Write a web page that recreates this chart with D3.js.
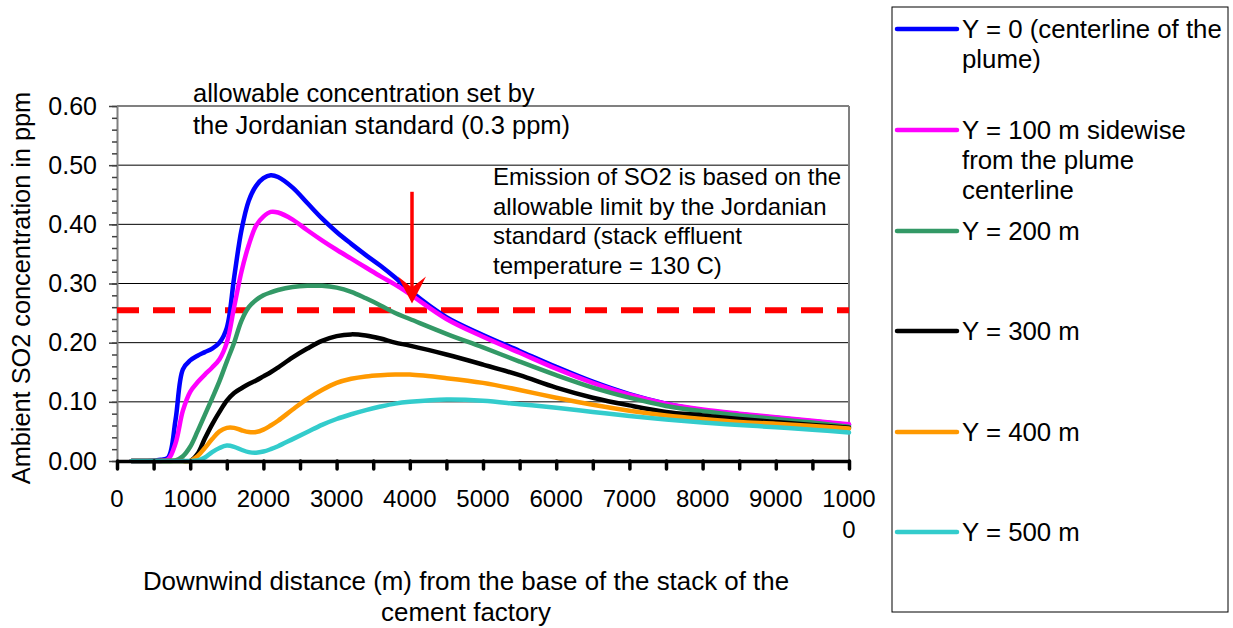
<!DOCTYPE html>
<html><head><meta charset="utf-8">
<script src="https://cdn.jsdelivr.net/npm/d3@7"></script>
<style>
body{margin:0;background:#fff;}
svg{display:block;font-family:"Liberation Sans",Arial,sans-serif;}
</style></head>
<body><svg id="c" width="1233" height="628"></svg>
<script>
const distances = [200,400,600,700,800,900,1000,1100,1200,1300,1400,1500,1600,1700,1800,1900,2000,2100,2200,2400,2600,2800,3000,3200,3400,3600,3800,4000,4500,5000,5500,6000,6500,7000,7500,8000,8500,9000,9500,10000];
const y0   = [0,0,0.002,0.006,0.07,0.155,0.17,0.178,0.184,0.19,0.2,0.225,0.31,0.39,0.44,0.465,0.478,0.483,0.48,0.462,0.436,0.41,0.387,0.367,0.348,0.33,0.31,0.288,0.243,0.213,0.186,0.159,0.134,0.113,0.097,0.086,0.079,0.073,0.067,0.061];
const y100 = [0,0,0,0.003,0.03,0.085,0.117,0.133,0.146,0.158,0.172,0.2,0.26,0.32,0.365,0.398,0.413,0.421,0.42,0.408,0.39,0.373,0.357,0.342,0.327,0.312,0.298,0.282,0.24,0.21,0.183,0.156,0.132,0.112,0.097,0.087,0.08,0.074,0.068,0.062];
const y200 = [0,0,0,0,0.001,0.008,0.024,0.05,0.078,0.106,0.135,0.168,0.2,0.237,0.26,0.272,0.28,0.285,0.289,0.294,0.296,0.296,0.293,0.286,0.275,0.263,0.25,0.24,0.215,0.192,0.168,0.145,0.124,0.107,0.093,0.084,0.077,0.071,0.065,0.058];
const y300 = [0,0,0,0,0,0,0,0.012,0.038,0.062,0.083,0.102,0.115,0.123,0.13,0.136,0.143,0.15,0.158,0.175,0.19,0.203,0.211,0.214,0.212,0.207,0.2,0.195,0.18,0.163,0.145,0.124,0.107,0.094,0.083,0.077,0.071,0.066,0.061,0.056];
const y400 = [0,0,0,0,0,0,0,0.008,0.022,0.037,0.05,0.056,0.056,0.052,0.049,0.049,0.053,0.06,0.068,0.087,0.105,0.12,0.132,0.139,0.143,0.145,0.146,0.146,0.14,0.132,0.12,0.107,0.095,0.085,0.077,0.071,0.066,0.063,0.059,0.055];
const y500 = [0,0,0,0,0,0,0,0.001,0.006,0.015,0.022,0.026,0.024,0.019,0.015,0.014,0.016,0.02,0.025,0.037,0.049,0.061,0.071,0.079,0.086,0.092,0.097,0.1,0.104,0.102,0.096,0.09,0.083,0.076,0.07,0.065,0.061,0.057,0.053,0.048];
const seriesNames = [["Y = 0 (centerline of the","plume)"],["Y = 100 m sidewise","from the plume","centerline"],["Y = 200 m"],["Y = 300 m"],["Y = 400 m"],["Y = 500 m"]];
const seriesColors = ["#0000ff","#ff00ff","#339966","#000000","#ff9900","#33cccc"];
const seriesValues = [y0,y100,y200,y300,y400,y500];
const xTicks = [0,1000,2000,3000,4000,5000,6000,7000,8000,9000,10000];
const yTicks = [0,0.1,0.2,0.3,0.4,0.5,0.6];
const limitValue = 0.255;
const arrowX = 4030, arrowTop = 0.455, arrowTip = 0.266;

const svg = d3.select("#c");
const L=117,R=849,T=106,B=461;
const x = d3.scaleLinear().domain([0,10000]).range([L,R]);
const y = d3.scaleLinear().domain([0,0.6]).range([B,T]);
const FF = "Liberation Sans, Arial, sans-serif";

// grid
svg.append("g").selectAll("line").data(yTicks.filter(v=>v>0&&v<0.6)).join("line")
  .attr("x1",L).attr("x2",R).attr("y1",d=>y(d)).attr("y2",d=>y(d))
  .attr("stroke","#000").attr("stroke-width",1);
// border top/right
svg.append("line").attr("x1",L).attr("x2",R).attr("y1",T).attr("y2",T).attr("stroke","#808080").attr("stroke-width",2);
svg.append("line").attr("x1",R).attr("x2",R).attr("y1",T).attr("y2",B).attr("stroke","#808080").attr("stroke-width",2);

// y minor ticks
const yMinor = svg.append("g").attr("transform",`translate(${L},0)`)
  .call(d3.axisLeft(y).tickValues(d3.range(0,31).map(i=>i*0.02)).tickSize(5).tickSizeOuter(0).tickFormat(""));
yMinor.select(".domain").attr("stroke","#808080").attr("stroke-width",2);
yMinor.selectAll(".tick line").attr("stroke","#404040").attr("stroke-width",1.5);
const yAx = svg.append("g").attr("transform",`translate(${L},0)`)
  .call(d3.axisLeft(y).tickValues(yTicks).tickSize(8).tickSizeOuter(0).tickPadding(12).tickFormat(d3.format(".2f")));
yAx.select(".domain").remove();
yAx.selectAll(".tick line").attr("stroke","#404040").attr("stroke-width",1.5);
yAx.selectAll(".tick text").attr("font-size",25).attr("fill","#000").attr("font-family",FF);

// red dashed limit
svg.append("line").attr("x1",L).attr("x2",R).attr("y1",y(limitValue)).attr("y2",y(limitValue))
  .attr("stroke","#ff0000").attr("stroke-width",6).attr("stroke-dasharray","22,14");

// series
const line = d3.line().x((d,i)=>x(distances[i])).y(d=>y(d)).curve(d3.curveCatmullRom.alpha(0.5));
seriesValues.forEach((vals,k)=>{
  svg.append("path").datum(vals).attr("d",line).attr("fill","none")
    .attr("stroke",seriesColors[k]).attr("stroke-width",4.5).attr("stroke-linejoin","round").attr("stroke-linecap","round");
});

// x axis
const xAx = svg.append("g").attr("transform",`translate(0,${B})`)
  .call(d3.axisBottom(x).tickValues(d3.range(0,10001,500)).tickSize(8).tickSizeOuter(0)
  .tickFormat(""));
xAx.select(".domain").attr("stroke","#000").attr("stroke-width",3.5);
xAx.selectAll(".tick line").attr("stroke","#000").attr("stroke-width",3.5).attr("stroke-linecap","round");
// labels (last one wraps onto two lines)
const lblY = 507, lblGap = 31;
svg.append("g").selectAll("text").data(xTicks).join("text")
  .attr("font-size",24).attr("font-family",FF).attr("text-anchor","middle").attr("fill","#000")
  .each(function(d){
    const s = String(d), t = d3.select(this);
    const parts = s.length>4 ? [s.slice(0,4), s.slice(4)] : [s];
    parts.forEach((p,i)=>t.append("tspan").attr("x",x(d)).attr("y",lblY+i*lblGap).text(p));
  });

// arrow
svg.append("line").attr("x1",x(arrowX)).attr("x2",x(arrowX)).attr("y1",y(arrowTop)).attr("y2",y(arrowTip)-14)
  .attr("stroke","#ff0000").attr("stroke-width",3.5);
const ax=x(arrowX), ay=y(arrowTip);
svg.append("path").attr("d",`M${ax},${ay} L${ax+14},${ay-27} L${ax},${ay-16} L${ax-14},${ay-27} Z`).attr("fill","#ff0000");

// annotations
const ann1 = ["allowable concentration set by","the Jordanian standard (0.3 ppm)"];
const ann2 = ["Emission of SO2 is based on the","allowable limit by the Jordanian","standard (stack effluent","temperature = 130 C)"];
svg.append("g").selectAll("text").data(ann1).join("text").attr("x",193).attr("y",(d,i)=>102+i*32)
  .attr("font-size",25.5).text(d=>d);
svg.append("g").selectAll("text").data(ann2).join("text").attr("x",493).attr("y",(d,i)=>185+i*29.5)
  .attr("font-size",24).text(d=>d);

// axis titles
svg.append("text").attr("transform","translate(30,288) rotate(-90)").attr("text-anchor","middle")
  .attr("font-size",25.3).text("Ambient SO2 concentration in ppm");
const xt = ["Downwind distance (m) from the base of the stack of the","cement factory"];
svg.append("g").selectAll("text").data(xt).join("text").attr("x",466).attr("y",(d,i)=>590+i*31)
  .attr("text-anchor","middle").attr("font-size",25.9).text(d=>d);

// legend
svg.append("rect").attr("x",892).attr("y",7).attr("width",336).attr("height",605)
  .attr("fill","none").attr("stroke","#000").attr("stroke-width",1);
const legY = [29,130,231,331,432,532];
seriesNames.forEach((lines,k)=>{
  svg.append("line").attr("x1",897).attr("x2",957).attr("y1",legY[k]).attr("y2",legY[k])
    .attr("stroke",seriesColors[k]).attr("stroke-width",4.5).attr("stroke-linecap","round");
  svg.append("g").selectAll("text").data(lines).join("text").attr("x",962).attr("y",(d,i)=>legY[k]+9+i*30)
    .attr("font-size",25.8).text(d=>d);
});
</script></body></html>
